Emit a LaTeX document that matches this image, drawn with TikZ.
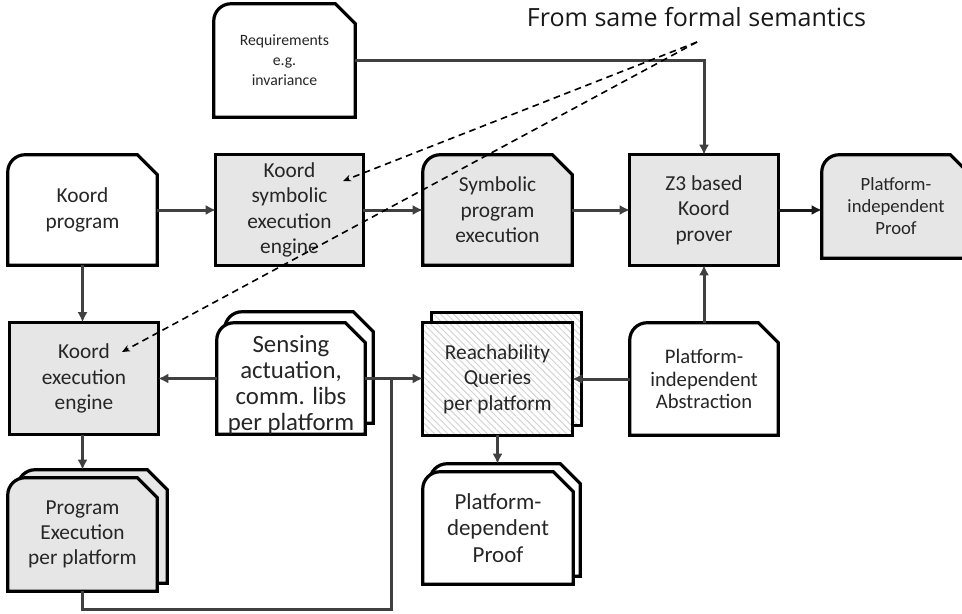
\documentclass[tikz,border=0pt]{standalone}
\usepackage{fontspec}
\setmainfont{Carlito}
\newfontfamily\titlefont{Open Sans}
\usetikzlibrary{arrows.meta,backgrounds,patterns.meta}

\definecolor{boxgray}{RGB}{231,230,230}
\definecolor{linegray}{RGB}{64,64,64}

\tikzset{
    box/.style 2 args={minimum width=#1*0.75pt, minimum height=#2*0.75pt, inner sep=0pt, align=center, text=black!85, font=\fontsize{16}{19}\selectfont},
    fs/.style 2 args={font=\fontsize{#1}{#2}\selectfont},
    outline/.style={draw=black, line width=2.4pt, line join=miter},
    hatch/.style={outline, preaction={fill=white}, pattern={Lines[angle=-45,distance=3.5pt,line width=0.7pt]}, pattern color=gray!35},
    flow/.style={draw=linegray, line width=2.25pt, -{Latex[length=7.5pt,width=7.5pt]}},
    link/.style={draw=linegray, line width=2.25pt},
    hint/.style={line width=1.2pt, dash pattern=on 5pt off 3.5pt, -{Stealth[length=6pt,width=5pt]}},
    title/.style={anchor=base, text=black!90, font=\titlefont\fontsize{18.8}{22}\selectfont}
}

% box with round top-left and cut top-right corner, optional offset for the copy behind
\newcommand{\snipbox}[3][0,0]{%
    \filldraw[outline, fill=#3] ([shift={(#1)}]#2.west) [rounded corners=13pt] -- ([shift={(#1)}]#2.north west) -- ([shift={(#1)}]#2.north) [sharp corners] -- ([shift={(#1)},xshift=-15pt]#2.north east) -- ([shift={(#1)},yshift=-15pt]#2.north east) -- ([shift={(#1)}]#2.south east) -- ([shift={(#1)}]#2.south west) -- cycle;}
\newcommand{\rectbox}[3][0,0]{%
    \filldraw[outline, fill=#3] ([shift={(#1)}]#2.south west) rectangle ([shift={(#1)}]#2.north east);}

\begin{document}
\begin{tikzpicture}[x=0.75pt,y=-0.75pt]
    \useasboundingbox (0,0) rectangle (962,613);

    \node[title] (sem) at (696.5,27) {From same formal semantics};

    \node[box={141}{113}, fs={11.8}{15}] (req) at (284.5,60.5) {Requirements\\e.g.\\invariance};

    \node[box={149}{110}] (prog) at (82.5,210) {Koord\\program};
    \node[box={147}{110}] (symeng) at (289.5,210) {Koord\\symbolic\\execution\\engine};
    \node[box={149}{110}] (symexec) at (497.5,210) {Symbolic\\program\\execution};
    \node[box={148}{110}] (z3) at (704,210) {Z3 based\\Koord\\prover};
    \node[box={148}{103}, fs={14}{16.5}] (piproof) at (896,206.5) {Platform-\\independent\\Proof};

    \node[box={148}{112}] (exeng) at (84,378.5) {Koord\\execution\\engine};
    % text sits low in this box, outline is drawn 6.5 higher
    \node[box={148}{111}, fs={18.6}{19.5}] (sens) at (291,385) {Sensing\\actuation,\\comm. libs\\per platform};
    \node[box={149}{112}] (reach) at (497.5,379) {Reachability\\Queries\\per platform};
    \node[box={148}{112}, fs={15.5}{16.8}] (abstr) at (704,379) {Platform-\\independent\\Abstraction};

    \node[box={149}{113}] (progexec) at (82.5,534.5) {Program\\Execution\\per platform};
    \node[box={150}{112}, fs={17.2}{20}] (pdproof) at (498,528) {Platform-\\dependent\\Proof};

    \begin{scope}[on background layer]
        \snipbox{req}{white}
        \snipbox{prog}{white}
        \rectbox{symeng}{boxgray}
        \snipbox{symexec}{boxgray}
        \rectbox{z3}{boxgray}
        \snipbox{piproof}{boxgray}
        \rectbox{exeng}{boxgray}
        \snipbox[8,-17.5]{sens}{white}
        \snipbox[0,-6.5]{sens}{white}
        \draw[hatch] ([shift={(9,-10)}]reach.south west) rectangle ([shift={(9,-10)}]reach.north east);
        \draw[hatch] (reach.south west) rectangle (reach.north east);
        \snipbox{abstr}{white}
        \snipbox[10,-8]{progexec}{boxgray}
        \snipbox{progexec}{boxgray}
        \snipbox[7,-8]{pdproof}{white}
        \snipbox{pdproof}{white}
    \end{scope}

    \coordinate (petop) at ([yshift=6pt]progexec.north);
    \coordinate (pdtop) at ([yshift=6pt]pdproof.north);
    \coordinate (join) at (391,378.5);
    \coordinate (loop) at (391,609);

    \draw[flow] (prog) -- (symeng);
    \draw[flow] (symeng) -- (symexec);
    \draw[flow] (symexec) -- (z3);
    \draw[flow, draw=black!90] (z3.east) -- (z3.east -| piproof.west);
    \draw[flow] (req.east) -| (z3.north);
    \draw[flow] (abstr) -- (z3);
    \draw[flow] (prog.south) -- (prog.south |- exeng.north);
    \draw[flow] (join -| sens.west) -- (join -| exeng.east);
    \draw[flow] (join -| sens.east) -- (join -| reach.west);
    \draw[flow] (abstr.west) -- (abstr.west -| reach.east);
    \draw[flow] (exeng.south -| progexec.north) -- (petop);
    \draw[flow] (reach.south) -- (reach.south |- pdtop);
    \draw[link] (progexec.south) |- (loop) -- (join);

    \coordinate (semtip) at (697,42);
    \coordinate (symtip) at (343,181);
    \coordinate (engtip) at (122,352);
    \draw[hint] (semtip) -- (symtip);
    \draw[hint] (semtip) -- (engtip);
\end{tikzpicture}
\end{document}
